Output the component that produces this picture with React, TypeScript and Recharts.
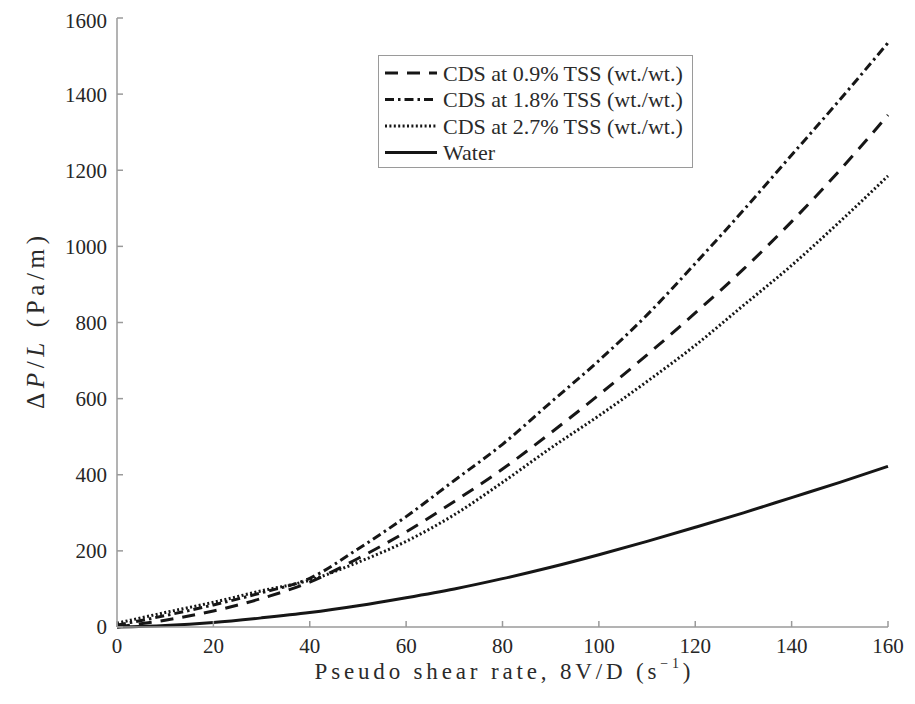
import React from "react";
import { LineChart, Line, XAxis, YAxis, Legend, Label } from "recharts";

// Pseudo shear rate 8V/D (1/s)
const shearRate = [0, 10, 20, 30, 40, 50, 60, 70, 80, 90, 100, 110, 120, 130, 140, 150, 160];
// Pressure gradient ΔP/L (Pa/m)
const cds09 = [0, 18, 42, 75, 118, 180, 250, 330, 415, 510, 610, 715, 825, 940, 1065, 1200, 1345];
const cds18 = [5, 30, 58, 90, 128, 205, 290, 385, 480, 590, 700, 820, 955, 1095, 1240, 1385, 1535];
const cds27 = [10, 38, 65, 95, 123, 170, 225, 295, 380, 470, 555, 645, 740, 845, 950, 1065, 1185];
const water = [0, 4, 12, 24, 38, 56, 77, 100, 127, 157, 190, 225, 262, 300, 340, 380, 422];

const xTicks = [0, 20, 40, 60, 80, 100, 120, 140, 160];
const yTicks = [0, 200, 400, 600, 800, 1000, 1200, 1400, 1600];

const series = [
  { key: "cds09", name: "CDS at 0.9% TSS (wt./wt.)", dash: "13 9" },
  { key: "cds18", name: "CDS at 1.8% TSS (wt./wt.)", dash: "9 4 2.5 4" },
  { key: "cds27", name: "CDS at 2.7% TSS (wt./wt.)", dash: "2 2.4" },
  { key: "water", name: "Water", dash: undefined as string | undefined },
];

const data = shearRate.map((x, i) => ({
  x,
  cds09: cds09[i],
  cds18: cds18[i],
  cds27: cds27[i],
  water: water[i],
}));

const FONT = "Liberation Serif, DejaVu Serif, serif";
const INK = "#161616";
const AXIS = "#9a9a9a";

const XTitle = (props: any) => {
  const vb = props.viewBox || {};
  const cx = vb.x + vb.width / 2;
  const cy = vb.y + 44;
  return (
    <text
      x={cx}
      y={cy}
      textAnchor="middle"
      dominantBaseline="central"
      style={{ fontFamily: FONT }}
      fontSize={23}
      fill="#2a2a2a"
      textLength={376}
      lengthAdjust="spacing"
    >
      Pseudo shear rate, 8V/D (s
      <tspan dy={-8} fontSize={14}>−1</tspan>
      <tspan dy={8}>)</tspan>
    </text>
  );
};

const YTitle = (props: any) => {
  const vb = props.viewBox || {};
  const cx = 27;
  const cy = vb.y + vb.height / 2;
  return (
    <text
      x={cx}
      y={cy}
      transform={`rotate(-90 ${cx} ${cy})`}
      textAnchor="middle"
      dominantBaseline="central"
      style={{ fontFamily: FONT }}
      fontSize={25}
      fill="#2a2a2a"
      textLength={173}
      lengthAdjust="spacing"
    >
      Δ<tspan fontStyle="italic">P</tspan>/<tspan fontStyle="italic">L</tspan> (Pa/m)
    </text>
  );
};

const renderLegend = () => (
  <svg width={315} height={113} style={{ display: "block" }}>
    <rect x={0.5} y={0.5} width={314} height={112} fill="#fff" stroke={AXIS} strokeWidth={1} />
    {series.map((s, i) => {
      const cy = 18 + i * 26.5;
      return (
        <g key={s.key}>
          <line
            x1={7}
            x2={59}
            y1={cy}
            y2={cy}
            stroke={INK}
            strokeWidth={3}
            strokeDasharray={s.dash}
          />
          <text
            x={65}
            y={cy}
            dominantBaseline="central"
            style={{ fontFamily: FONT }}
            fontSize={22}
            fill="#2a2a2a"
          >
            {s.name}
          </text>
        </g>
      );
    })}
  </svg>
);

export default function App() {
  return (
    <div style={{ fontFamily: FONT }}>
      <LineChart
        width={900}
        height={690}
        data={data}
        margin={{ top: 10, right: 20, left: 49, bottom: 31 }}
        style={{ fontFamily: FONT }}
      >
        <XAxis
          dataKey="x"
          type="number"
          domain={[0, 160]}
          ticks={xTicks}
          height={40}
          stroke={AXIS}
          strokeWidth={1.5}
          tickSize={-6}
          tickMargin={17}
          tick={{ fill: "#262626", fontSize: 21, fontFamily: FONT }}
        >
          <Label content={XTitle} />
        </XAxis>
        <YAxis
          type="number"
          domain={[0, 1600]}
          ticks={yTicks}
          width={60}
          stroke={AXIS}
          strokeWidth={1.5}
          tickSize={-6}
          tickMargin={16}
          tick={{ fill: "#262626", fontSize: 21, fontFamily: FONT }}
        >
          <Label content={YTitle} />
        </YAxis>
        <Legend
          layout="horizontal"
          verticalAlign="middle"
          align="center"
          content={renderLegend}
          wrapperStyle={{ position: "absolute", left: 370, top: 47, width: 315, height: 113 }}
        />
        {series.map((s) => (
          <Line
            key={s.key}
            dataKey={s.key}
            name={s.name}
            type="monotone"
            stroke={INK}
            strokeWidth={3}
            strokeDasharray={s.dash}
            dot={false}
            activeDot={false}
            isAnimationActive={false}
          />
        ))}
      </LineChart>
    </div>
  );
}
